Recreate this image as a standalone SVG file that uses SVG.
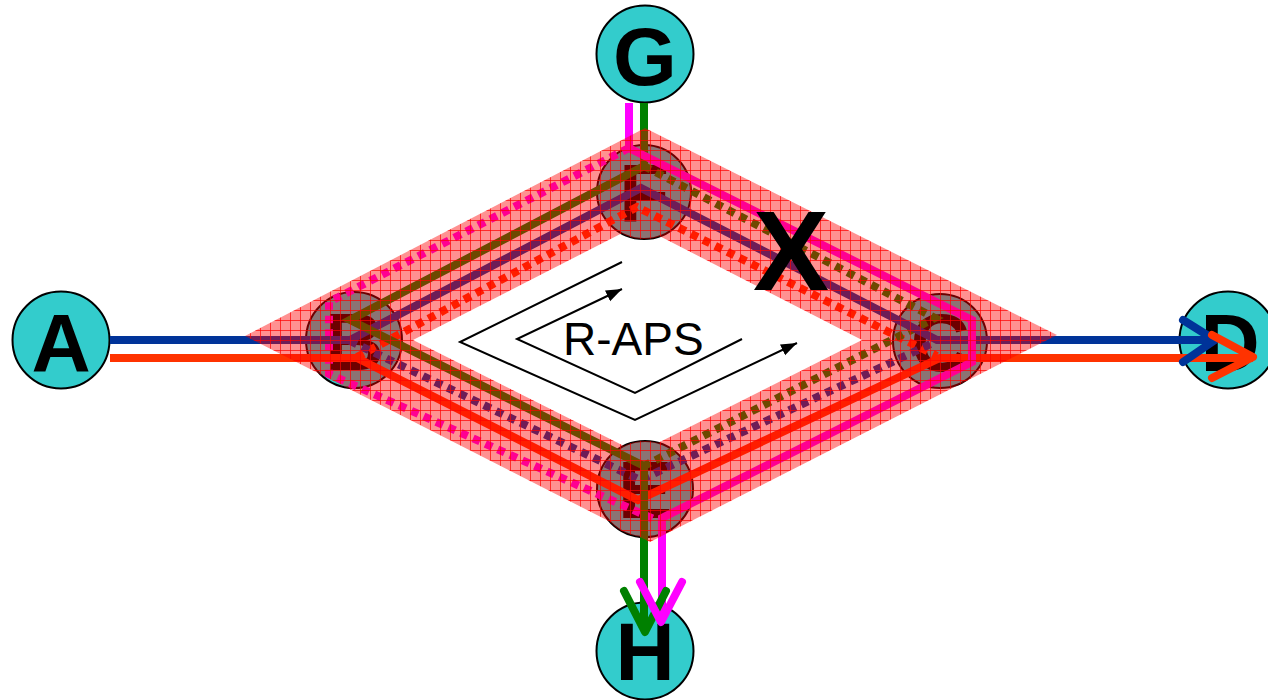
<svg xmlns="http://www.w3.org/2000/svg" width="1268" height="700" viewBox="0 0 1268 700">
<defs>
<style>
.node circle{fill:#33cccc;stroke:#000;stroke-width:2}
.node text{font-family:"Liberation Sans",Arial,sans-serif;font-weight:bold;font-size:82px;text-anchor:middle;fill:#000}
.ln{fill:none;stroke-width:8;stroke-linejoin:miter;stroke-linecap:butt}
.dot{stroke-dasharray:7.5 6}
.ah{fill:none;stroke-width:8;stroke-linecap:round;stroke-linejoin:round}
.blue{stroke:#003399}.red{stroke:#ff3300}.green{stroke:#008000}.mag{stroke:#ff00ff}
.raps{fill:none;stroke:#000;stroke-width:2}
</style>
<pattern id="grid" patternUnits="userSpaceOnUse" width="10" height="10">
<rect width="10" height="10" fill="#ff0000" fill-opacity="0.43"/>
<path d="M0 0.5H10M0.5 0V10" stroke="#ff0000" stroke-width="1" stroke-opacity="0.7"/>
</pattern>
<marker id="tri" markerUnits="userSpaceOnUse" markerWidth="18" markerHeight="14" refX="16" refY="6" orient="auto">
<path d="M0,0 L16,6 L0,12 Z" fill="#000"/>
</marker>
</defs>
<rect width="1268" height="700" fill="#fff"/>
<g id="node-A" class="node"><circle cx="61" cy="340" r="48.5"/><text x="61" y="371">A</text></g>
<g id="node-G" class="node"><circle cx="645" cy="54" r="48.5"/><text x="645" y="85">G</text></g>
<g id="node-D" class="node"><circle cx="1228" cy="340" r="48.5"/><text x="1230" y="371">D</text></g>
<g id="node-H" class="node"><circle cx="645" cy="651" r="48.5"/><text x="645" y="680">H</text></g>
<g id="node-B" class="node"><circle cx="354" cy="340" r="48"/><text x="354" y="370">B</text></g>
<g id="node-F" class="node"><circle cx="644" cy="192" r="47"/><text x="644" y="222">F</text></g>
<g id="node-C" class="node"><circle cx="940" cy="341" r="47"/><text x="940" y="371">C</text></g>
<g id="node-E" class="node"><circle cx="645" cy="489" r="48"/><text x="645" y="518">E</text></g>
<g id="connectors">
<path class="ln dot mag" d="M629,148 L329,302 L329,374 L658,521"/>
<path class="ln dot red" d="M357,357 L637,207 L937,356"/>
<path class="ln dot blue" d="M350,341 L640,480 L935,342"/>
<path class="ln dot green" d="M644,166 L935,318 L644,466"/>
<path class="ln red" d="M110,358 L357,358 L638,500 L940,358 L1253,358"/>
<path class="ln blue" d="M110,340 L350,340 L641,188 L937,340 L1214,340"/>
<path class="ln green" d="M644,103 L644,166 L350,320 L644,466 L644,630"/>
<path class="ln mag" d="M629,103 L629,148 L972,320 L972,362 L662,518 L662,620"/>
<path class="ah blue" d="M1183,320 L1215,340 L1183,362"/>
<path class="ah red" d="M1212,335 L1253,357 L1212,378"/>
<path class="ah green" d="M624,591 L645,632 L666,591"/>
<path class="ah mag" d="M640,582 L661,622 L682,582"/>
</g>
<path id="ring" d="M245,336 L645,128 L1057,335 L650,542 Z M413,340 L638,453 L862,340 L638,225 Z M597,192 A47,47 0 1,1 691,192 A47,47 0 1,1 597,192 Z M597,489 A48,48 0 1,1 693,489 A48,48 0 1,1 597,489 Z" fill="url(#grid)" fill-rule="nonzero"/>
<g id="raps">
<path class="raps" d="M622,262 L460,342 L635,420 L797,343" marker-end="url(#tri)"/>
<path class="raps" d="M742,339 L635,393 L517,339 L622,289" marker-end="url(#tri)"/>
<text x="563" y="355" font-family="Liberation Sans,Arial,sans-serif" font-size="46" fill="#000">R-APS</text>
</g>
<text x="791" y="290" font-family="Liberation Sans,Arial,sans-serif" font-size="114" font-weight="bold" text-anchor="middle" fill="#000">X</text>
</svg>
